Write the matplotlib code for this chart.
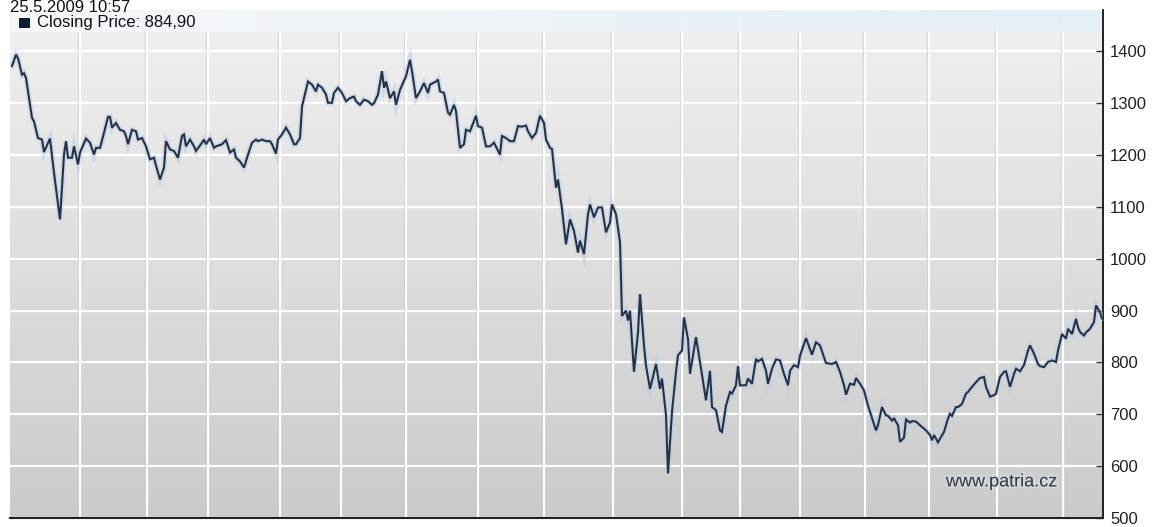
import numpy as np
import matplotlib
matplotlib.use('Agg')
import matplotlib.pyplot as plt
import matplotlib.patheffects as pe
from matplotlib.colors import LinearSegmentedColormap
from matplotlib.patches import Rectangle

plt.rcParams['font.family'] = ['Liberation Sans', 'DejaVu Sans']

# Daily closes (sample index -> index value)
day = [0, 2, 3, 5, 6, 7, 10, 11, 13, 15, 16, 19, 21, 24, 26, 27, 28, 30, 31, 33,
       34, 37, 39, 41, 42, 44, 46, 48, 49, 50, 52, 54, 56, 57, 58, 60, 62, 63, 65, 67,
       69, 71, 72, 74, 76, 77, 79, 81, 83, 85, 86, 87, 89, 91, 92, 95, 96, 97, 99, 101,
       102, 105, 107, 109, 111, 112, 114, 116, 118, 120, 122, 123, 125, 127, 129, 130, 132, 133, 135, 137,
       139, 141, 142, 144, 145, 147, 148, 150, 152, 153, 155, 157, 158, 160, 161, 163, 165, 167, 169, 171,
       172, 174, 176, 178, 180, 181, 183, 185, 186, 187, 189, 191, 192, 194, 197, 199, 200, 202, 204, 206,
       208, 209, 212, 213, 214, 216, 218, 219, 221, 222, 224, 226, 227, 229, 232, 233, 235, 237, 239, 241,
       244, 245, 247, 249, 251, 253, 255, 257, 258, 260, 262, 264, 266, 267, 269, 270, 272, 273, 275, 277,
       279, 281, 283, 284, 286, 288, 289, 291, 293, 295, 297, 299, 300, 302, 304, 305, 307, 308, 309, 311,
       313, 314, 316, 317, 319, 322, 324, 325, 327, 328, 330, 332, 333, 335, 336, 338, 339, 342, 344, 347,
       349, 350, 352, 354, 355, 357, 359, 360, 362, 363, 364, 367, 368, 370, 372, 373, 375, 377, 378, 380,
       382, 384, 386, 388, 389, 391, 393, 394, 397, 399, 400, 402, 404, 406, 407, 410, 412, 414, 416, 417,
       419, 421, 422, 424, 426, 428, 429, 432, 433, 435, 437, 438, 440, 441, 443, 444, 446, 447, 449, 450,
       452, 454, 457, 459, 460, 461, 463, 464, 466, 468, 469, 470, 472, 473, 475, 477, 478, 480, 482, 484,
       486, 487, 489, 491, 492, 494, 496, 497, 499, 501, 502, 504, 506, 508, 509, 511, 513, 514, 516, 518,
       520, 522, 523, 525, 527, 528, 530, 532, 533, 534, 536, 537, 539, 541, 542, 544, 545]

close = [1372, 1394, 1387, 1355, 1358, 1349, 1272, 1265, 1233, 1230, 1206, 1232, 1166, 1076, 1201, 1227, 1195, 1195, 1217, 1182,
         1205, 1232, 1224, 1201, 1214, 1214, 1243, 1274, 1274, 1253, 1262, 1249, 1246, 1237, 1221, 1249, 1246, 1230, 1233, 1217,
         1192, 1195, 1180, 1153, 1176, 1227, 1211, 1208, 1195, 1237, 1240, 1217, 1230, 1217, 1208, 1224, 1230, 1221, 1233, 1214,
         1217, 1221, 1229, 1205, 1211, 1195, 1188, 1176, 1201, 1224, 1230, 1227, 1230, 1227, 1227, 1221, 1203, 1230, 1240, 1253,
         1240, 1221, 1221, 1233, 1294, 1326, 1342, 1336, 1323, 1336, 1330, 1317, 1301, 1301, 1320, 1330, 1320, 1304, 1310, 1313,
         1304, 1297, 1307, 1304, 1297, 1300, 1317, 1362, 1330, 1342, 1310, 1323, 1297, 1326, 1352, 1384, 1362, 1310, 1323, 1339,
         1320, 1336, 1342, 1346, 1323, 1320, 1282, 1278, 1297, 1285, 1214, 1221, 1249, 1246, 1276, 1256, 1253, 1217, 1217, 1224,
         1201, 1237, 1233, 1227, 1227, 1256, 1255, 1257, 1246, 1233, 1243, 1276, 1262, 1230, 1214, 1212, 1137, 1153, 1096, 1028,
         1076, 1054, 1012, 1035, 1009, 1086, 1105, 1080, 1099, 1099, 1051, 1070, 1105, 1086, 1032, 890, 900, 881, 900, 782,
         858, 932, 833, 794, 749, 797, 749, 769, 698, 586, 705, 782, 814, 823, 887, 845, 778, 849, 801, 727,
         784, 714, 708, 669, 666, 717, 743, 740, 756, 793, 756, 756, 769, 759, 807, 802, 807, 784, 759, 788,
         806, 804, 778, 756, 784, 795, 791, 813, 847, 826, 815, 839, 833, 810, 799, 797, 801, 782, 756, 738,
         759, 757, 770, 759, 746, 717, 705, 669, 679, 714, 698, 697, 688, 692, 679, 647, 655, 690, 684, 687,
         686, 679, 669, 660, 650, 660, 646, 653, 666, 692, 701, 697, 714, 714, 720, 740, 743, 753, 762, 770,
         772, 753, 734, 737, 740, 772, 782, 783, 753, 778, 788, 783, 795, 823, 833, 817, 797, 793, 791, 801,
         804, 801, 823, 855, 846, 865, 855, 884, 868, 859, 852, 858, 865, 878, 910, 897, 884.90]

# Month boundaries (sample index) used for the vertical grid
month_starts = [34, 67.5, 98, 134, 164.5, 197, 233, 266, 300.5, 335, 364, 394, 426.5, 458.5, 492.5, 525.5]
price_ticks = [500, 600, 700, 800, 900, 1000, 1100, 1200, 1300, 1400]

stamp = '25.5.2009 10:57'
last_close = close[-1]

W, H = 1159, 527
fig = plt.figure(figsize=(W / 100, H / 100), dpi=100)
fig.patch.set_facecolor('white')
ax = fig.add_axes([10 / W, 9 / H, 1093 / W, 508 / H])

# grey vertical gradient background
bg = LinearSegmentedColormap.from_list('bg', ['#cbcbcb', '#f1f1f1'])
grad = np.linspace(0, 1, 256).reshape(-1, 1)
ax.imshow(grad, extent=[0, 1, 0, 1], transform=ax.transAxes, aspect='auto',
          cmap=bg, origin='lower', zorder=0)

for y in price_ticks:
    ax.axhline(y, color='white', lw=1.6, zorder=1)
for x in month_starts:
    ax.axvline(x - 1.2, color='#c4c4c4', lw=0.8, alpha=0.6, zorder=1)
    ax.axvline(x, color='white', lw=1.6, zorder=1)

# light header band holding the legend
band = LinearSegmentedColormap.from_list('band', ['#f7f9fa', '#e3f0f7'])
ax.imshow(np.linspace(0, 1, 256).reshape(1, -1), extent=[0, 1, 1 - 22 / 508, 1],
          transform=ax.transAxes, aspect='auto', cmap=band, alpha=0.9, zorder=2)

ax.plot(day, close, color='#243149', lw=1.5, zorder=4, solid_joinstyle='miter',
        path_effects=[pe.Stroke(linewidth=4, foreground='#b9cde0', alpha=0.5), pe.Normal()])

ax.set_xlim(-1, 545.5)
ax.set_ylim(500, 1480)
ax.set_xticks([])
ax.set_yticks(price_ticks)
ax.yaxis.tick_right()
ax.tick_params(axis='y', direction='in', length=5, width=1, pad=5,
               labelsize=12, labelcolor='#222222', color='#333333')
for side in ['left', 'top']:
    ax.spines[side].set_visible(False)
ax.spines['right'].set_color('#111111')
ax.spines['right'].set_linewidth(1.3)
ax.spines['bottom'].set_color('#222222')
ax.spines['bottom'].set_linewidth(1.5)

ax.text(0.907, 0.071, 'www.patria.cz', transform=ax.transAxes, ha='center', va='center',
        fontsize=13, color='#3a3a3a', zorder=5,
        path_effects=[pe.Stroke(linewidth=2.5, foreground='#d6e2ec', alpha=0.6), pe.Normal()])

fig.text(10 / W, 1 - 12 / H, stamp, fontsize=12, color='#111111', va='baseline', ha='left')
fig.patches.append(Rectangle((19 / W, 1 - 28 / H), 11 / W, 10 / H, transform=fig.transFigure,
                             facecolor='#0f1e33', edgecolor='none', zorder=6))
fig.text(37 / W, 1 - 27 / H, 'Closing Price: ' + f'{last_close:.2f}'.replace('.', ','),
         fontsize=12, color='#111111', va='baseline', ha='left', zorder=6)

fig.savefig('out.png', dpi=100)
